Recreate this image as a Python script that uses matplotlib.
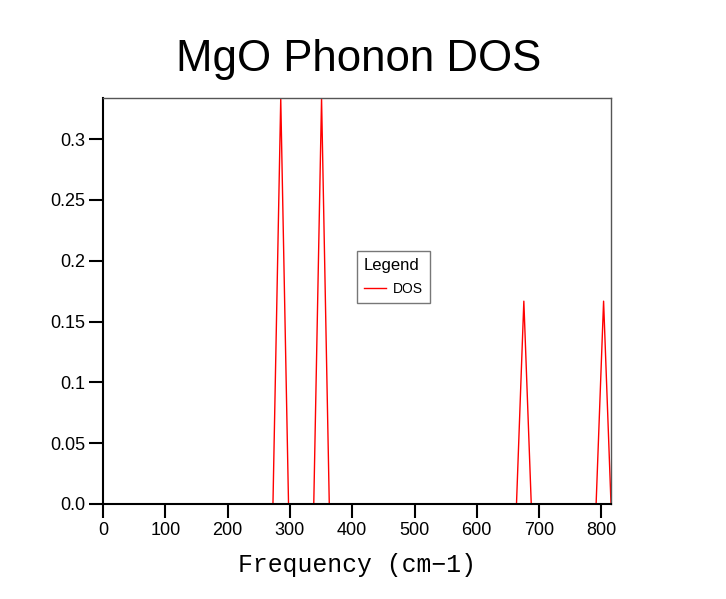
import matplotlib
matplotlib.use("Agg")
import matplotlib.pyplot as plt

# Data
freq = [0, 272.8, 285.3, 297.8, 338.3, 350.8, 363.2, 663.7, 675.5, 687.4, 791.5, 803.5, 815.4]
dos = [0, 0, 0.3333, 0, 0, 0.3333, 0, 0, 0.1667, 0, 0, 0.1667, 0]
xticks = [0, 100, 200, 300, 400, 500, 600, 700, 800]
yticks = [0.0, 0.05, 0.1, 0.15, 0.2, 0.25, 0.3]
ytick_labels = ["0.0", "0.05", "0.1", "0.15", "0.2", "0.25", "0.3"]

plt.rcParams['font.family'] = ['Liberation Sans', 'DejaVu Sans']

fig = plt.figure(figsize=(7.26, 5.99), dpi=100)
ax = fig.add_axes([103/726, 1-504/599, (611-103)/726, (504-98)/599])

ax.plot(freq, dos, color='red', lw=1.0, label='DOS')
ax.set_xlim(0, 815.4)
ax.set_ylim(0, 0.3337)
ax.set_xticks(xticks)
ax.set_yticks(yticks)
ax.set_yticklabels(ytick_labels)
ax.tick_params(direction='out', length=10, width=1.5, labelsize=13, pad=3)
for s in ['left', 'bottom']:
    ax.spines[s].set_linewidth(1.5)
for s in ['top', 'right']:
    ax.spines[s].set_linewidth(1.0)
    ax.spines[s].set_color('#555555')

fig.text(359/726, 1-60/599, 'MgO Phonon DOS', ha='center', va='center', fontsize=31.5)
ax.set_xlabel('Frequency (cm\u22121)', fontsize=17.8, family=['Liberation Mono', 'DejaVu Sans Mono'],
              labelpad=10)

leg = ax.legend(title='Legend', loc='center', bbox_to_anchor=((393.5-103)/508, (504-277)/406),
                fontsize=10, title_fontsize=12, frameon=True, fancybox=False,
                handlelength=1.6, handletextpad=0.5, edgecolor='#555555', borderpad=0.5,
                labelspacing=0.6)
leg.get_frame().set_linewidth(1.0)
leg._legend_box.align = 'left'
leg._legend_box.sep = 7

fig.savefig('out.png', dpi=100)
